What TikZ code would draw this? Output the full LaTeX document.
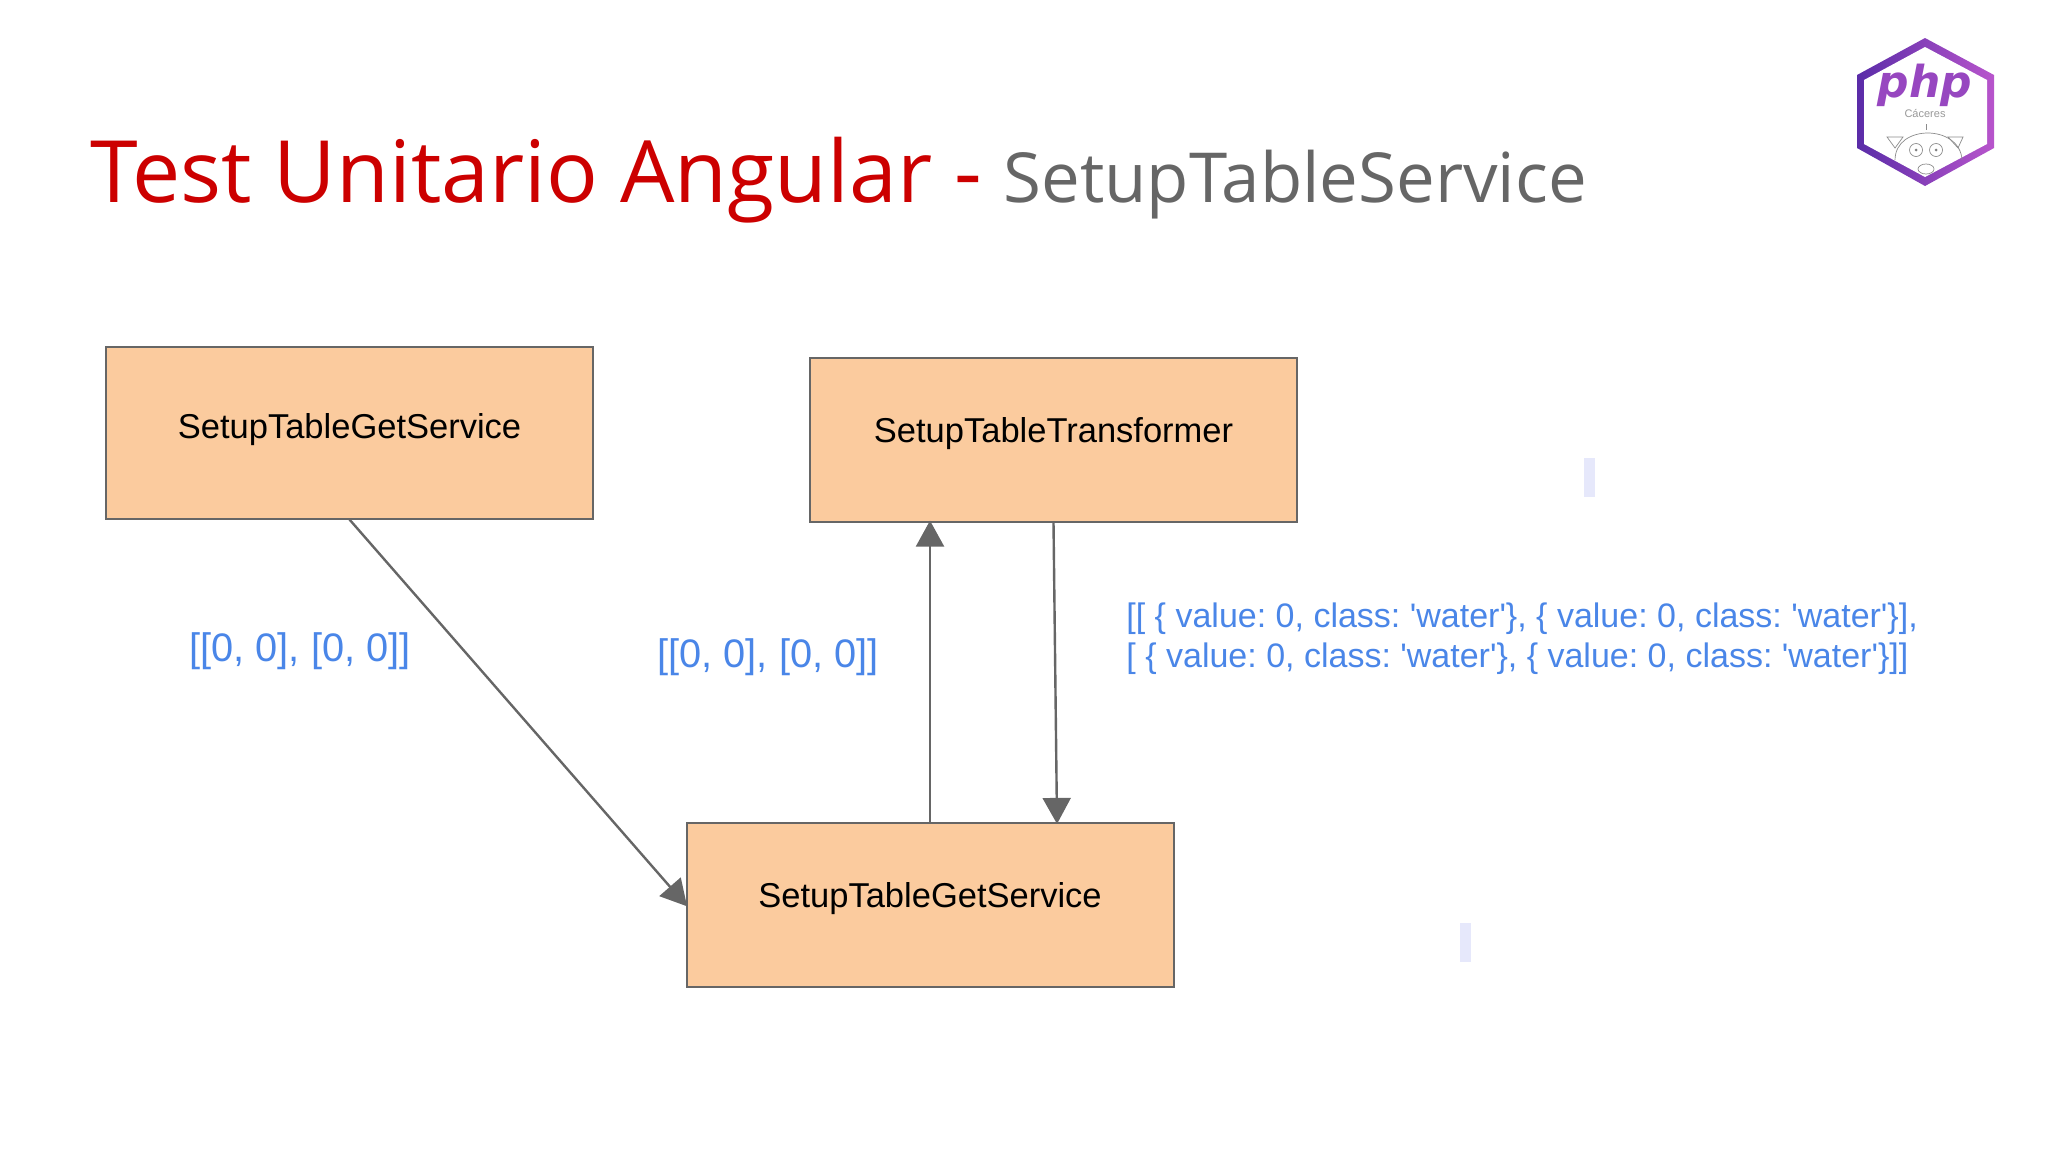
\documentclass[tikz,border=0pt]{standalone}
\usepackage{fontspec}
\setmainfont{Liberation Sans}
\newfontfamily\titlefont{Open Sans}
\newfontfamily\datafont{Liberation Sans}[Ligatures=TeXOff]
\newfontfamily\logofont{DejaVu Sans}
\usetikzlibrary{calc}
\usetikzlibrary{arrows.meta}
\definecolor{boxfill}{HTML}{FBCB9E}
\definecolor{boxline}{HTML}{666666}
\definecolor{datablue}{HTML}{4A86E8}
\definecolor{titlered}{HTML}{CC0000}
\definecolor{titlegray}{HTML}{666666}
\definecolor{marklilac}{HTML}{E6E8FB}
\definecolor{logodark}{HTML}{5A2CA8}
\definecolor{logolight}{HTML}{B855CC}
\tikzset{
 boxnode/.style={draw=boxline, line width=1pt, fill=boxfill, minimum width=243.5pt, minimum height=82pt, font=\fontsize{17.25}{19}\selectfont, text height=11pt, text depth=8pt, inner sep=0pt},
 datatext/.style={text=datablue, inner sep=0pt, anchor=base west},
 flow/.style={draw=boxline, line width=1.2pt, -{Triangle[length=13pt, width=14pt]}, shorten >=-1.2pt},
 markbar/.style={fill=marklilac, draw=none},
 pigline/.style={draw=black!45, line width=.35pt}
}
\begin{document}
\begin{tikzpicture}[x=.5pt, y=-.5pt]
\useasboundingbox (0,0) rectangle (2048,1152);
\node[anchor=base west, inner sep=0pt, text=titlered, font=\titlefont\fontsize{43}{50}\selectfont] (title) at (90,202) {Test Unitario Angular -};
\node[anchor=base west, inner sep=0pt, text=titlegray, font=\titlefont\fontsize{34.5}{40}\selectfont] (subtitle) at (1003,202) {SetupTableService};
\node[boxnode, minimum height=86pt, text depth=5.4pt] (get) at (349.5,432.5) {SetupTableGetService};
\node[boxnode, text depth=8.5pt] (transformer) at (1053.5,440) {SetupTableTransformer};
\node[boxnode, text depth=8.2pt] (service) at (930,904.5) {SetupTableGetService};
\coordinate (entry) at ($(service.north)+(127,0)$);
\draw[flow] (get.south) -- (service.west);
\draw[flow] (service.north) -- (service.north |- transformer.south);
\draw[flow] (transformer.south) -- (entry);
\node[datatext, font=\fontsize{19.9}{24}\selectfont] (left) at (189,661) {[[0, 0], [0, 0]]};
\node[datatext, font=\fontsize{19.9}{24}\selectfont] (mid) at (657,667) {[[0, 0], [0, 0]]};
\node[datatext, font=\datafont\frenchspacing\fontsize{17}{20}\selectfont] (first) at (1126,627) {[[ \{ value: 0, class: 'water'\}, \{ value: 0, class: 'water'\}],};
\node[datatext, font=\datafont\frenchspacing\fontsize{17}{20}\selectfont] (second) at (1126,667) {[ \{ value: 0, class: 'water'\}, \{ value: 0, class: 'water'\}]]};
\fill[markbar] (1584,458) rectangle (1595,497);
\fill[markbar] (1460,923) rectangle (1471,962);
% logo
\shade[left color=logodark, right color=logolight] (1925,38)--(1994,75)--(1994,148)--(1925,186)--(1857,148)--(1857,75)--cycle;
\fill[white] (1925,47)--(1987,80)--(1987,144)--(1925,177)--(1864,144)--(1864,80)--cycle;
\node[anchor=base, inner sep=0pt, text=logolight!65!logodark, font=\logofont\bfseries\itshape\fontsize{22}{24}\selectfont] (php) at (1925,97) {php};
\node[anchor=base, inner sep=0pt, text=black!40, font=\fontsize{5.5}{6}\selectfont] (city) at (1925,117) {Cáceres};
\draw[pigline] (1926,124) -- (1926,130);
\draw[pigline] (1895,160) .. controls (1895,124) and (1960,124) .. (1962,160);
\draw[pigline] (1887,137)--(1903,137)--(1895,148)--cycle;
\draw[pigline] (1948,137)--(1963,137)--(1958,148)--cycle;
\foreach \x in {1916,1936} {
 \draw[pigline] (\x,150) circle (6.5);
 \fill[black!50] (\x,150) circle (1.5);
}
\draw[pigline] (1926,169) ellipse (8 and 5);
\end{tikzpicture}
\end{document}
